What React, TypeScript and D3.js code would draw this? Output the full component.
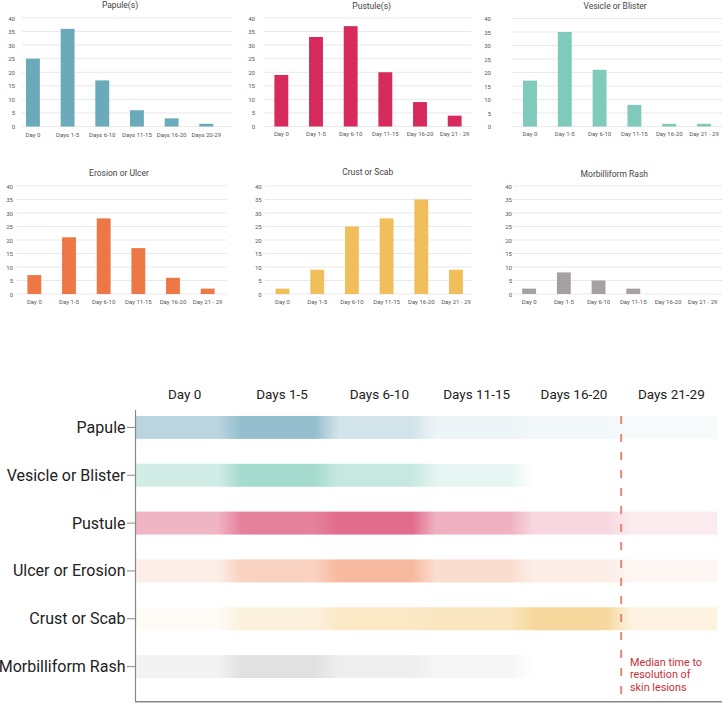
import { scaleBand, scaleLinear } from 'd3'

// Top: six small bar charts (count of patients per lesion stage by day bin).
// Bottom: a timeline of lesion stages drawn as horizontal gradient bands.

const papuleDays = ['Day 0', 'Days 1-5', 'Days 6-10', 'Days 11-15', 'Days 16-20', 'Days 20-29']
const dayBins = ['Day 0', 'Day 1-5', 'Day 6-10', 'Day 11-15', 'Day 16-20', 'Day 21 - 29']
const yTicks = [0, 5, 10, 15, 20, 25, 30, 35, 40]

const papuleCounts = [25, 36, 17, 6, 3, 1]
const pustuleCounts = [19, 33, 37, 20, 9, 4]
const vesicleCounts = [17, 35, 21, 8, 1, 1]
const erosionCounts = [7, 21, 28, 17, 6, 2]
const crustCounts = [2, 9, 25, 28, 35, 9]
const rashCounts = [2, 8, 5, 2, 0, 0]

const stageRows = ['Papule', 'Vesicle or Blister', 'Pustule', 'Ulcer or Erosion', 'Crust or Scab', 'Morbilliform Rash']
const stageColumns = ['Day 0', 'Days 1-5', 'Days 6-10', 'Days 11-15', 'Days 16-20', 'Days 21-29']
// shade (0..1) of each band per column
const papuleShade = [0.39, 0.6, 0.25, 0.1, 0.07, 0.04]
const vesicleShade = [0.28, 0.56, 0.36, 0.16, 0, 0]
const pustuleShade = [0.36, 0.62, 0.72, 0.38, 0.2, 0.1]
const ulcerShade = [0.13, 0.36, 0.55, 0.27, 0.14, 0.07]
const crustShade = [0.05, 0.22, 0.36, 0.4, 0.62, 0.2]
const rashShade = [0.12, 0.3, 0.17, 0.09, 0, 0]
const annotation = ['Median time to', 'resolution of', 'skin lesions']

const TEXT = '#555'
const GRID = '#e3e3e3'

type Layout = {
  band: [number, number]
  grid: [number, number]
  y: [number, number]
  yLabelX: number
  titleX: number
  titleY: number
  labelY: number
}

const panels: { title: string; labels: string[]; values: number[]; color: string; layout: Layout }[] = [
  {
    title: 'Papule(s)', labels: papuleDays, values: papuleCounts, color: '#6aaabb',
    layout: { band: [15.6, 223.6], grid: [22, 232], y: [126.5, 18], yLabelX: 15, titleX: 120, titleY: 5, labelY: 134 },
  },
  {
    title: 'Pustule(s)', labels: dayBins, values: pustuleCounts, color: '#d62a5c',
    layout: { band: [264, 472], grid: [263.6, 471.7], y: [126.5, 18], yLabelX: 255, titleX: 371.7, titleY: 6, labelY: 133 },
  },
  {
    title: 'Vesicle or Blister', labels: dayBins, values: vesicleCounts, color: '#7fcabb',
    layout: { band: [512.6, 721.4], grid: [511.7, 722], y: [126.5, 18.5], yLabelX: 491, titleX: 615, titleY: 6, labelY: 133 },
  },
  {
    title: 'Erosion or Ulcer', labels: dayBins, values: erosionCounts, color: '#ed7845',
    layout: { band: [17, 225], grid: [16.7, 226.7], y: [294, 186], yLabelX: 13, titleX: 119, titleY: 173.3, labelY: 301 },
  },
  {
    title: 'Crust or Scab', labels: dayBins, values: crustCounts, color: '#f0bf5c',
    layout: { band: [265.2, 473.3], grid: [265, 471.7], y: [294, 186], yLabelX: 261.7, titleX: 367.7, titleY: 172.3, labelY: 301 },
  },
  {
    title: 'Morbilliform Rash', labels: dayBins, values: rashCounts, color: '#a6a1a1',
    layout: { band: [511.8, 720], grid: [513.3, 722], y: [294, 186], yLabelX: 512, titleX: 614.3, titleY: 174, labelY: 301 },
  },
]

const stages = [
  { shade: papuleShade, color: [77, 147, 174] },
  { shade: vesicleShade, color: [95, 191, 168] },
  { shade: pustuleShade, color: [214, 51, 95] },
  { shade: ulcerShade, color: [240, 128, 80] },
  { shade: crustShade, color: [242, 192, 96] },
  { shade: rashShade, color: [154, 154, 154] },
]

function BarPanel({ title, labels, values, color, layout }: (typeof panels)[number]) {
  const x = scaleBand().domain(labels).range(layout.band).paddingInner(0.6).paddingOuter(0.3)
  const y = scaleLinear().domain([0, 40]).range(layout.y)
  return (
    <g>
      <text x={layout.titleX} y={layout.titleY} textAnchor="middle" dominantBaseline="central" fontSize={8.5} fill="#444">
        {title}
      </text>
      {yTicks.map((t) => (
        <g key={t}>
          <line x1={layout.grid[0]} x2={layout.grid[1]} y1={y(t)} y2={y(t)} stroke={GRID} strokeWidth={0.8} />
          <text x={layout.yLabelX} y={y(t)} textAnchor="end" dominantBaseline="central" fontSize={6} fill={TEXT}>
            {t}
          </text>
        </g>
      ))}
      {values.map((v, i) => {
        const bx = x(labels[i]) ?? 0
        return (
          <g key={labels[i]}>
            {v > 0 && <rect x={bx} y={y(v)} width={x.bandwidth()} height={y(0) - y(v)} fill={color} />}
            <text x={bx + x.bandwidth() / 2} y={layout.labelY} textAnchor="middle" dominantBaseline="central" fontSize={6} fill={TEXT}>
              {labels[i]}
            </text>
          </g>
        )
      })}
    </g>
  )
}

function Timeline() {
  const x = scaleBand().domain(stageColumns).range([136, 720])
  const y = scaleBand().domain(stageRows).range([403.5, 690.5]).paddingInner(0.52).paddingOuter(0.26)
  const [x0, x1] = x.range()
  const end = x1 - 3
  const ramp = 12
  const markX = (x('Days 21-29') ?? 0) - 1.5
  return (
    <g>
      <defs>
        {stages.map((s, r) => {
          const stops: { at: number; a: number }[] = []
          stageColumns.forEach((c, i) => {
            const bx = x(c) ?? 0
            stops.push({ at: i === 0 ? x0 : bx + ramp - 4, a: s.shade[i] })
            stops.push({ at: i === stageColumns.length - 1 ? end : bx + x.bandwidth() - ramp - 4, a: s.shade[i] })
          })
          const [cr, cg, cb] = s.color
          return (
            <linearGradient key={r} id={`stage${r}`} gradientUnits="userSpaceOnUse" x1={x0} x2={end} y1={0} y2={0}>
              {stops.map((p, k) => (
                <stop key={k} offset={(p.at - x0) / (end - x0)} stopColor={`rgb(${cr},${cg},${cb})`} stopOpacity={p.a} />
              ))}
            </linearGradient>
          )
        })}
      </defs>
      {stageColumns.map((c) => (
        <text key={c} x={(x(c) ?? 0) + x.bandwidth() / 2} y={394} textAnchor="middle" dominantBaseline="central" fontSize={13.5} fill="#222">
          {c}
        </text>
      ))}
      {stageRows.map((r, i) => {
        const by = y(r) ?? 0
        const cy = by + y.bandwidth() / 2
        return (
          <g key={r}>
            <rect x={x0} y={by} width={end - x0} height={y.bandwidth()} fill={`url(#stage${i})`} />
            <line x1={127} x2={135.5} y1={cy} y2={cy} stroke="#888" strokeWidth={1} />
            <text x={125.5} y={cy} textAnchor="end" dominantBaseline="central" fontSize={16} fill="#222">
              {r}
            </text>
          </g>
        )
      })}
      <line x1={135.5} x2={135.5} y1={410} y2={702} stroke="#888" strokeWidth={1.2} />
      <line x1={135} x2={722} y1={701.7} y2={701.7} stroke="#888" strokeWidth={1.4} />
      <line x1={markX} x2={markX} y1={416} y2={700} stroke="#e08879" strokeWidth={2} strokeDasharray="8 10" />
      {annotation.map((t, i) => (
        <text key={t} x={630} y={662 + i * 12.7} dominantBaseline="central" fontSize={10.8} fill="#c92f3c">
          {t}
        </text>
      ))}
    </g>
  )
}

export default function App() {
  return (
    <svg
      width={722}
      height={703}
      viewBox="0 0 722 703"
      style={{ position: 'absolute', left: 0, top: 0, background: '#fff', fontFamily: 'Roboto, sans-serif' }}
    >
      {panels.map((p) => (
        <BarPanel key={p.title} {...p} />
      ))}
      <Timeline />
    </svg>
  )
}
